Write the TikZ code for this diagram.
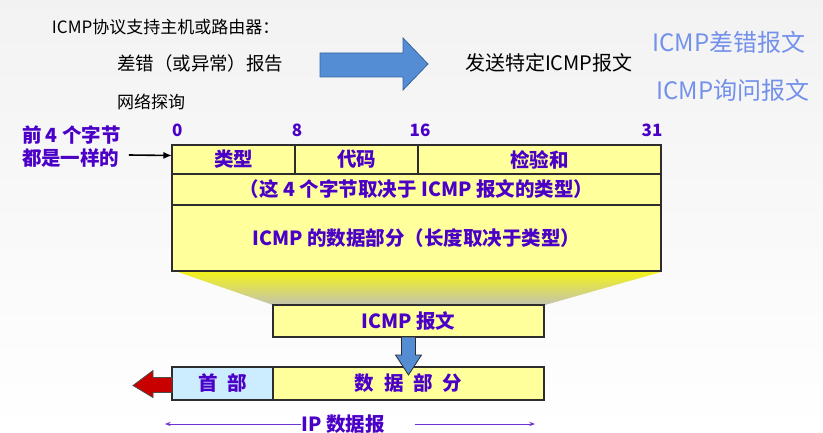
\documentclass[tikz,border=0pt]{standalone}
\usepackage{fontspec}
\setmainfont{Noto Sans CJK SC}
\usepackage{tikz}
\usetikzlibrary{arrows.meta,positioning}
\definecolor{inkPurple}{RGB}{75,0,200}
\definecolor{paleYellow}{RGB}{255,255,155}
\definecolor{paleCyan}{RGB}{204,236,255}
\definecolor{arrowBlue}{RGB}{84,141,212}
\definecolor{edgeBlue}{RGB}{55,100,160}
\definecolor{ghostBlue}{RGB}{115,145,235}
\definecolor{darkRed}{RGB}{200,0,0}
\definecolor{gridGray}{RGB}{45,45,45}
\definecolor{fanTop}{RGB}{242,242,30}
\definecolor{fanBottom}{RGB}{195,195,175}
\newcommand{\gap}{\hspace{0.5em}}
\begin{document}
\begin{tikzpicture}[x=1pt,y=-1pt,
  every node/.style={inner sep=0pt,outer sep=0pt},
  plain/.style={font=\fontsize{17}{20}\selectfont,anchor=west,text=black},
  ghost/.style={font=\fontsize{24}{28}\selectfont,text=ghostBlue},
  num/.style={font=\fontsize{17}{20}\selectfont\bfseries,text=inkPurple},
  lbl/.style={font=\fontsize{19.5}{23}\selectfont\bfseries,text=inkPurple},
  cell/.style={draw=gridGray,line width=1.1pt,fill=paleYellow,lbl},
  headcell/.style={cell,fill=paleCyan},
  arr/.style={-{Latex[length=3mm,width=2.5mm]},line width=1.6pt,black},
  iparr/.style={-{Stealth[length=2mm]},line width=1pt,inkPurple!80}]
\useasboundingbox (0,0) rectangle (823,433);
\shade[top color=black!5,bottom color=white] (0,0) rectangle (823,433);
\node[plain] (intro) at (52,27) {ICMP协议支持主机或路由器：};
\node[plain,font=\fontsize{18.5}{22}\selectfont] (err) at (117,63) {差错（或异常）报告};
\node[plain] (probe) at (117,102) {网络探询};
\draw[fill=arrowBlue,draw=edgeBlue,line width=0.8pt] (320,53) -- (403,53) -- (403,38) -- (428,64) -- (403,90) -- (403,77) -- (320,77) -- cycle;
\node[plain,font=\fontsize{20}{24}\selectfont] (send) at (465,63) {发送特定ICMP报文};
\node[ghost] (errmsg) at (729,42) {ICMP差错报文};
\node[ghost] (askmsg) at (733,90) {ICMP询问报文};
\node[num,anchor=west] (b0) at (172,130) {0};
\node[num] (b8) at (297,130) {8};
\node[num] (b16) at (420,130) {16};
\node[num] (b31) at (652,130) {31};
\node[lbl,align=left,anchor=west] (same) at (22,147) {前 4 个字节\\都是一样的};
\shade[top color=fanTop,bottom color=fanBottom] (178,272) -- (661,272) -- (545,305) -- (273,305) -- cycle;
\node[cell,minimum width=123pt,minimum height=29pt] (type) at (233.5,159.5) {类型};
\node[cell,minimum width=123pt,minimum height=29pt] (code) at (356.5,159.5) {代码};
\node[cell,minimum width=243pt,minimum height=29pt] (sum) at (539.5,159.5) {检验和};
\node[cell,minimum width=489pt,minimum height=31pt] (rest) at (416.5,189.5) {（这 4 个字节取决于 ICMP 报文的类型）};
\node[cell,minimum width=489pt,minimum height=66pt] (data) at (416.5,238) {ICMP 的数据部分（长度取决于类型）};
\node[cell,minimum width=271pt,minimum height=32pt] (icmp) at (408.5,321) {ICMP 报文};
\node[headcell,minimum width=101pt,minimum height=33pt,text width=101pt,align=center] (head) at (222.5,383.5) {首\gap 部\hspace{0.6em}};
\node[cell,minimum width=271pt,minimum height=33pt] (body) at (408.5,383.5) {数\gap 据\gap 部\gap 分};
\draw[arr] ([shift={(8,8)}]same.east) -- ([yshift=4pt]type.west);
\draw[fill=arrowBlue,draw=gridGray,line width=0.8pt] ([xshift=-7pt]icmp.south) -- ([xshift=7pt]icmp.south) -- ++(0,18) -- ++(6,0) -- ([yshift=-8pt]body.north) -- ++(-13,-20) -- ++(6,0) -- cycle;
\draw[fill=darkRed,draw=black!70,line width=0.8pt] ([yshift=6pt]head.west) -- ++(-19,0) -- ++(0,-7) -- ++(-20,15) -- ++(20,12) -- ++(0,-5) -- ++(19,0) -- cycle;
\node[lbl] (ip) at (343,424) {IP 数据报};
\coordinate (ipL) at (165,424);
\coordinate (ipR) at (535,424);
\draw[iparr] (ip.west) -- (ipL);
\draw[iparr] ([xshift=30pt]ip.east) -- (ipR);
\end{tikzpicture}
\end{document}
